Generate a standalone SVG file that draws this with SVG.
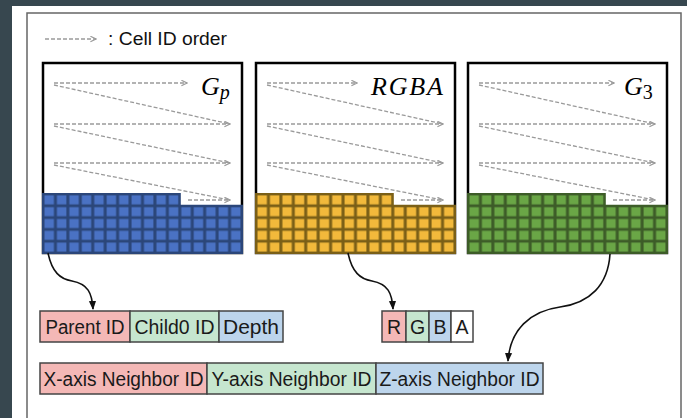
<svg xmlns="http://www.w3.org/2000/svg" width="687" height="418" viewBox="0 0 687 418">
<defs>
<style>
.frame{fill:#fff;stroke:#000;stroke-width:2.5}
.order{fill:none;stroke:#9a9a9a;stroke-width:1.3;stroke-dasharray:4 2}
.title{font-family:"Liberation Serif",serif;font-style:italic;fill:#000}
.lbl{font-family:"Liberation Sans",Arial,sans-serif;font-size:19.5px;fill:#1a1a1a}
.box{stroke:#444;stroke-width:1.5}
.pink{fill:#f4b8b6}
.green{fill:#c6e6cf}
.blue{fill:#bdd5ec}
.white{fill:#fff}
.conn{fill:none;stroke:#111;stroke-width:1.6}
</style>
<marker id="open" viewBox="0 0 10 10" refX="9" refY="5" markerWidth="7" markerHeight="7" markerUnits="userSpaceOnUse" orient="auto">
<path d="M1,1 L9,5 L1,9" fill="none" stroke="#9a9a9a" stroke-width="1.6"/>
</marker>
<marker id="tri" viewBox="0 0 10 10" refX="9" refY="5" markerWidth="9" markerHeight="9" markerUnits="userSpaceOnUse" orient="auto">
<path d="M0,1 L10,5 L0,9 Z" fill="#111"/>
</marker>
<pattern id="patBlue" patternUnits="userSpaceOnUse" x="43" y="194" width="12.4375" height="11.8">
<rect width="12.4375" height="11.8" fill="#2b4679"/>
<rect x="1.5" y="1.4" width="9.4" height="9" fill="#4a72c4"/>
</pattern>
<pattern id="patYellow" patternUnits="userSpaceOnUse" x="256" y="194" width="12.4375" height="11.8">
<rect width="12.4375" height="11.8" fill="#7a5f17"/>
<rect x="1.5" y="1.4" width="9.4" height="9" fill="#f2b93b"/>
</pattern>
<pattern id="patGreen" patternUnits="userSpaceOnUse" x="468" y="194" width="12.4375" height="11.8">
<rect width="12.4375" height="11.8" fill="#3d5c28"/>
<rect x="1.5" y="1.4" width="9.4" height="9" fill="#6aa646"/>
</pattern>
</defs>

<rect x="0" y="0" width="687" height="418" fill="#37474f"/>
<rect x="12" y="6" width="675" height="412" fill="#fff"/>
<rect x="27" y="13" width="654" height="420" fill="#fff" stroke="#666" stroke-width="1.5"/>

<g id="legend">
<line class="order" x1="45" y1="39" x2="96" y2="39" marker-end="url(#open)"/>
<text x="108" y="45" font-family="Liberation Sans,Arial,sans-serif" font-size="17.5" fill="#111" textLength="119" lengthAdjust="spacingAndGlyphs">: Cell ID order</text>
</g>

<g id="panel-gp">
<rect class="frame" x="43" y="63" width="199" height="190"/>
<g class="order">
<line x1="54" y1="83" x2="187" y2="83" marker-end="url(#open)"/>
<line x1="54" y1="85" x2="230" y2="124"/>
<line x1="54" y1="124" x2="230" y2="124" marker-end="url(#open)"/>
<line x1="54" y1="126" x2="230" y2="163"/>
<line x1="54" y1="163" x2="230" y2="163" marker-end="url(#open)"/>
<line x1="54" y1="165" x2="230" y2="200"/>
<line x1="188" y1="200" x2="230" y2="200" marker-end="url(#open)"/>
</g>
<text class="title" x="201" y="95" font-size="26">G<tspan font-size="20" dy="4">p</tspan></text>
<path d="M43,194 H179.8 V205.8 H242 V253 H43 Z" fill="url(#patBlue)" stroke="#2b4679" stroke-width="2"/>
</g>

<g id="panel-rgba">
<rect class="frame" x="256" y="63" width="199" height="190"/>
<g class="order">
<line x1="267" y1="83" x2="357" y2="83" marker-end="url(#open)"/>
<line x1="267" y1="85" x2="443" y2="124"/>
<line x1="267" y1="124" x2="443" y2="124" marker-end="url(#open)"/>
<line x1="267" y1="126" x2="443" y2="163"/>
<line x1="267" y1="163" x2="443" y2="163" marker-end="url(#open)"/>
<line x1="267" y1="165" x2="443" y2="200"/>
<line x1="401" y1="200" x2="443" y2="200" marker-end="url(#open)"/>
</g>
<text class="title" x="371" y="95" font-size="26" textLength="72" lengthAdjust="spacing">RGBA</text>
<path d="M256,194 H392.8 V205.8 H455 V253 H256 Z" fill="url(#patYellow)" stroke="#7a5f17" stroke-width="2"/>
</g>

<g id="panel-g3">
<rect class="frame" x="468" y="63" width="199" height="190"/>
<g class="order">
<line x1="479" y1="83" x2="614" y2="83" marker-end="url(#open)"/>
<line x1="479" y1="85" x2="655" y2="124"/>
<line x1="479" y1="124" x2="655" y2="124" marker-end="url(#open)"/>
<line x1="479" y1="126" x2="655" y2="163"/>
<line x1="479" y1="163" x2="655" y2="163" marker-end="url(#open)"/>
<line x1="479" y1="165" x2="655" y2="200"/>
<line x1="613" y1="200" x2="655" y2="200" marker-end="url(#open)"/>
</g>
<text class="title" x="624" y="95" font-size="26">G<tspan font-style="normal" font-size="20" dy="4">3</tspan></text>
<path d="M468,194 H604.8 V205.8 H667 V253 H468 Z" fill="url(#patGreen)" stroke="#3d5c28" stroke-width="2"/>
</g>

<g id="row-parent">
<rect class="box pink" x="40" y="311" width="90" height="31"/>
<rect class="box green" x="130" y="311" width="89" height="31"/>
<rect class="box blue" x="219" y="311" width="64" height="31"/>
<text class="lbl" x="85" y="333.5" text-anchor="middle" textLength="79" lengthAdjust="spacingAndGlyphs">Parent ID</text>
<text class="lbl" x="174.5" y="333.5" text-anchor="middle" textLength="80" lengthAdjust="spacingAndGlyphs">Child0 ID</text>
<text class="lbl" x="251" y="333.5" text-anchor="middle" textLength="56" lengthAdjust="spacingAndGlyphs">Depth</text>
</g>

<g id="row-rgba">
<rect class="box pink" x="382" y="311" width="24" height="31"/>
<rect class="box green" x="406" y="311" width="23" height="31"/>
<rect class="box blue" x="429" y="311" width="22" height="31"/>
<rect class="box white" x="451" y="311" width="22" height="31"/>
<text class="lbl" x="394" y="333.5" text-anchor="middle">R</text>
<text class="lbl" x="417.5" y="333.5" text-anchor="middle">G</text>
<text class="lbl" x="440" y="333.5" text-anchor="middle">B</text>
<text class="lbl" x="462" y="333.5" text-anchor="middle">A</text>
</g>

<g id="row-neighbor">
<rect class="box pink" x="40" y="363" width="167" height="31"/>
<rect class="box green" x="207" y="363" width="169" height="31"/>
<rect class="box blue" x="376" y="363" width="167" height="31"/>
<text class="lbl" x="123.5" y="385.5" text-anchor="middle" textLength="160" lengthAdjust="spacingAndGlyphs">X-axis Neighbor ID</text>
<text class="lbl" x="291.5" y="385.5" text-anchor="middle" textLength="160" lengthAdjust="spacingAndGlyphs">Y-axis Neighbor ID</text>
<text class="lbl" x="459.5" y="385.5" text-anchor="middle" textLength="160" lengthAdjust="spacingAndGlyphs">Z-axis Neighbor ID</text>
</g>

<g id="connectors">
<path class="conn" d="M48,253 C52,272 60,279 72,281 C88,284 92,293 93,309" marker-end="url(#tri)"/>
<path class="conn" d="M348,253 C352,272 360,279 372,281 C388,284 392,293 393,309" marker-end="url(#tri)"/>
<path class="conn" d="M610,254 C608,285 590,303 560,307 C530,311 510,330 508,361" marker-end="url(#tri)"/>
</g>
</svg>
